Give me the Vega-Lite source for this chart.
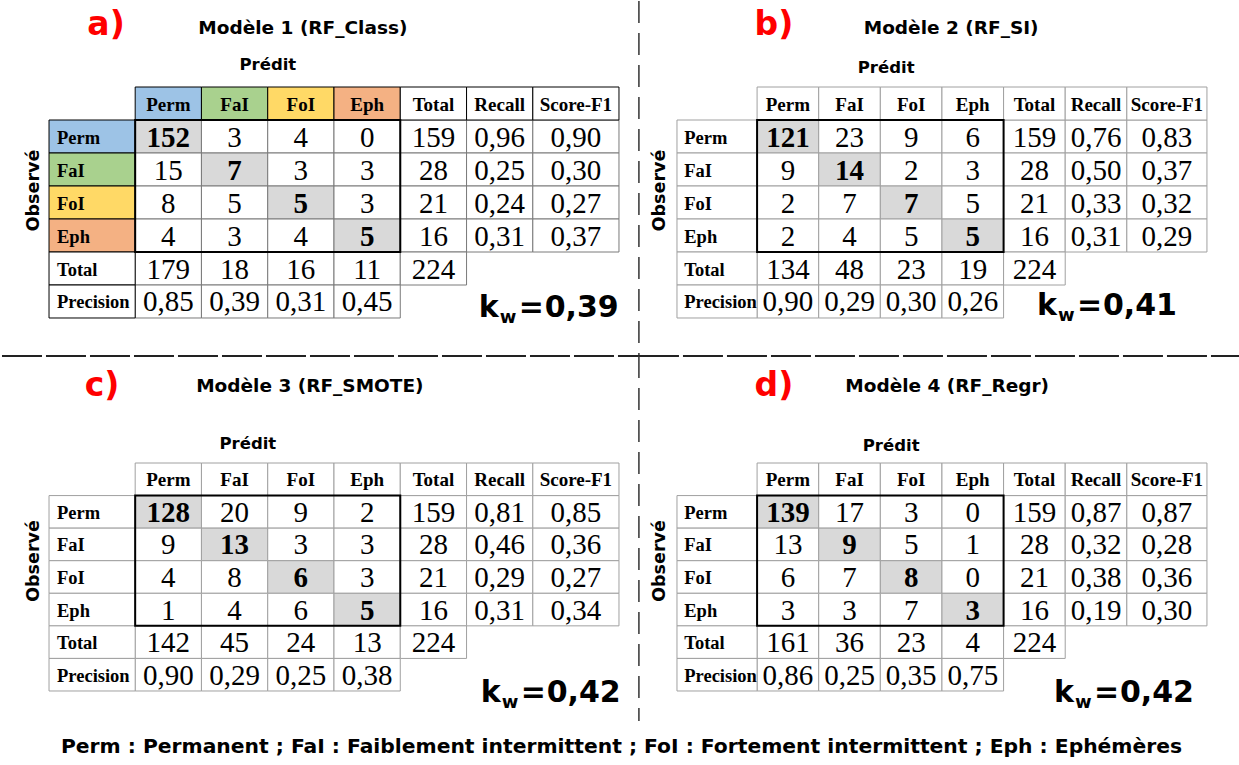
{
"$schema": "https://vega.github.io/schema/vega-lite/v6.json",
"padding": 0,
"background": "white",
"spacing": 0,
"columns": 2,
"bounds": "flush",
"title": {"text": "Perm : Permanent ; FaI : Faiblement intermittent ; FoI : Fortement intermittent ; Eph : Ephémères", "orient": "bottom", "anchor": "middle", "font": "DejaVu Sans", "fontSize": 20.3, "fontWeight": "bold", "color": "#000000", "offset": 11},
"config": {"view": {"stroke": null}, "locale": {"number": {"decimal": ",", "thousands": " ", "grouping": [3], "currency": ["", " €"]}}},
"datasets": {
"panels": [
{"p": "a", "letter": "a)", "model": "Modèle 1 (RF_Class)", "kw": 0.39},
{"p": "b", "letter": "b)", "model": "Modèle 2 (RF_SI)", "kw": 0.41},
{"p": "c", "letter": "c)", "model": "Modèle 3 (RF_SMOTE)", "kw": 0.42},
{"p": "d", "letter": "d)", "model": "Modèle 4 (RF_Regr)", "kw": 0.42}
],
"heads": [
{"r": "hdr", "c": "Perm", "t": "Perm"}, {"r": "hdr", "c": "FaI", "t": "FaI"}, {"r": "hdr", "c": "FoI", "t": "FoI"}, {"r": "hdr", "c": "Eph", "t": "Eph"}, {"r": "hdr", "c": "Total", "t": "Total"}, {"r": "hdr", "c": "Recall", "t": "Recall"}, {"r": "hdr", "c": "F1", "t": "Score-F1"},
{"r": "Perm", "c": "lbl", "t": "Perm"}, {"r": "FaI", "c": "lbl", "t": "FaI"}, {"r": "FoI", "c": "lbl", "t": "FoI"}, {"r": "Eph", "c": "lbl", "t": "Eph"}, {"r": "Total", "c": "lbl", "t": "Total"}, {"r": "Precision", "c": "lbl", "t": "Precision"}
],
"cells": [
{"p":"a","r":"Perm","c":"Perm","v":152},{"p":"a","r":"Perm","c":"FaI","v":3},{"p":"a","r":"Perm","c":"FoI","v":4},{"p":"a","r":"Perm","c":"Eph","v":0},{"p":"a","r":"Perm","c":"Total","v":159},{"p":"a","r":"Perm","c":"Recall","v":0.96},{"p":"a","r":"Perm","c":"F1","v":0.90},
{"p":"a","r":"FaI","c":"Perm","v":15},{"p":"a","r":"FaI","c":"FaI","v":7},{"p":"a","r":"FaI","c":"FoI","v":3},{"p":"a","r":"FaI","c":"Eph","v":3},{"p":"a","r":"FaI","c":"Total","v":28},{"p":"a","r":"FaI","c":"Recall","v":0.25},{"p":"a","r":"FaI","c":"F1","v":0.30},
{"p":"a","r":"FoI","c":"Perm","v":8},{"p":"a","r":"FoI","c":"FaI","v":5},{"p":"a","r":"FoI","c":"FoI","v":5},{"p":"a","r":"FoI","c":"Eph","v":3},{"p":"a","r":"FoI","c":"Total","v":21},{"p":"a","r":"FoI","c":"Recall","v":0.24},{"p":"a","r":"FoI","c":"F1","v":0.27},
{"p":"a","r":"Eph","c":"Perm","v":4},{"p":"a","r":"Eph","c":"FaI","v":3},{"p":"a","r":"Eph","c":"FoI","v":4},{"p":"a","r":"Eph","c":"Eph","v":5},{"p":"a","r":"Eph","c":"Total","v":16},{"p":"a","r":"Eph","c":"Recall","v":0.31},{"p":"a","r":"Eph","c":"F1","v":0.37},
{"p":"a","r":"Total","c":"Perm","v":179},{"p":"a","r":"Total","c":"FaI","v":18},{"p":"a","r":"Total","c":"FoI","v":16},{"p":"a","r":"Total","c":"Eph","v":11},{"p":"a","r":"Total","c":"Total","v":224},
{"p":"a","r":"Precision","c":"Perm","v":0.85},{"p":"a","r":"Precision","c":"FaI","v":0.39},{"p":"a","r":"Precision","c":"FoI","v":0.31},{"p":"a","r":"Precision","c":"Eph","v":0.45},
{"p":"b","r":"Perm","c":"Perm","v":121},{"p":"b","r":"Perm","c":"FaI","v":23},{"p":"b","r":"Perm","c":"FoI","v":9},{"p":"b","r":"Perm","c":"Eph","v":6},{"p":"b","r":"Perm","c":"Total","v":159},{"p":"b","r":"Perm","c":"Recall","v":0.76},{"p":"b","r":"Perm","c":"F1","v":0.83},
{"p":"b","r":"FaI","c":"Perm","v":9},{"p":"b","r":"FaI","c":"FaI","v":14},{"p":"b","r":"FaI","c":"FoI","v":2},{"p":"b","r":"FaI","c":"Eph","v":3},{"p":"b","r":"FaI","c":"Total","v":28},{"p":"b","r":"FaI","c":"Recall","v":0.50},{"p":"b","r":"FaI","c":"F1","v":0.37},
{"p":"b","r":"FoI","c":"Perm","v":2},{"p":"b","r":"FoI","c":"FaI","v":7},{"p":"b","r":"FoI","c":"FoI","v":7},{"p":"b","r":"FoI","c":"Eph","v":5},{"p":"b","r":"FoI","c":"Total","v":21},{"p":"b","r":"FoI","c":"Recall","v":0.33},{"p":"b","r":"FoI","c":"F1","v":0.32},
{"p":"b","r":"Eph","c":"Perm","v":2},{"p":"b","r":"Eph","c":"FaI","v":4},{"p":"b","r":"Eph","c":"FoI","v":5},{"p":"b","r":"Eph","c":"Eph","v":5},{"p":"b","r":"Eph","c":"Total","v":16},{"p":"b","r":"Eph","c":"Recall","v":0.31},{"p":"b","r":"Eph","c":"F1","v":0.29},
{"p":"b","r":"Total","c":"Perm","v":134},{"p":"b","r":"Total","c":"FaI","v":48},{"p":"b","r":"Total","c":"FoI","v":23},{"p":"b","r":"Total","c":"Eph","v":19},{"p":"b","r":"Total","c":"Total","v":224},
{"p":"b","r":"Precision","c":"Perm","v":0.90},{"p":"b","r":"Precision","c":"FaI","v":0.29},{"p":"b","r":"Precision","c":"FoI","v":0.30},{"p":"b","r":"Precision","c":"Eph","v":0.26},
{"p":"c","r":"Perm","c":"Perm","v":128},{"p":"c","r":"Perm","c":"FaI","v":20},{"p":"c","r":"Perm","c":"FoI","v":9},{"p":"c","r":"Perm","c":"Eph","v":2},{"p":"c","r":"Perm","c":"Total","v":159},{"p":"c","r":"Perm","c":"Recall","v":0.81},{"p":"c","r":"Perm","c":"F1","v":0.85},
{"p":"c","r":"FaI","c":"Perm","v":9},{"p":"c","r":"FaI","c":"FaI","v":13},{"p":"c","r":"FaI","c":"FoI","v":3},{"p":"c","r":"FaI","c":"Eph","v":3},{"p":"c","r":"FaI","c":"Total","v":28},{"p":"c","r":"FaI","c":"Recall","v":0.46},{"p":"c","r":"FaI","c":"F1","v":0.36},
{"p":"c","r":"FoI","c":"Perm","v":4},{"p":"c","r":"FoI","c":"FaI","v":8},{"p":"c","r":"FoI","c":"FoI","v":6},{"p":"c","r":"FoI","c":"Eph","v":3},{"p":"c","r":"FoI","c":"Total","v":21},{"p":"c","r":"FoI","c":"Recall","v":0.29},{"p":"c","r":"FoI","c":"F1","v":0.27},
{"p":"c","r":"Eph","c":"Perm","v":1},{"p":"c","r":"Eph","c":"FaI","v":4},{"p":"c","r":"Eph","c":"FoI","v":6},{"p":"c","r":"Eph","c":"Eph","v":5},{"p":"c","r":"Eph","c":"Total","v":16},{"p":"c","r":"Eph","c":"Recall","v":0.31},{"p":"c","r":"Eph","c":"F1","v":0.34},
{"p":"c","r":"Total","c":"Perm","v":142},{"p":"c","r":"Total","c":"FaI","v":45},{"p":"c","r":"Total","c":"FoI","v":24},{"p":"c","r":"Total","c":"Eph","v":13},{"p":"c","r":"Total","c":"Total","v":224},
{"p":"c","r":"Precision","c":"Perm","v":0.90},{"p":"c","r":"Precision","c":"FaI","v":0.29},{"p":"c","r":"Precision","c":"FoI","v":0.25},{"p":"c","r":"Precision","c":"Eph","v":0.38},
{"p":"d","r":"Perm","c":"Perm","v":139},{"p":"d","r":"Perm","c":"FaI","v":17},{"p":"d","r":"Perm","c":"FoI","v":3},{"p":"d","r":"Perm","c":"Eph","v":0},{"p":"d","r":"Perm","c":"Total","v":159},{"p":"d","r":"Perm","c":"Recall","v":0.87},{"p":"d","r":"Perm","c":"F1","v":0.87},
{"p":"d","r":"FaI","c":"Perm","v":13},{"p":"d","r":"FaI","c":"FaI","v":9},{"p":"d","r":"FaI","c":"FoI","v":5},{"p":"d","r":"FaI","c":"Eph","v":1},{"p":"d","r":"FaI","c":"Total","v":28},{"p":"d","r":"FaI","c":"Recall","v":0.32},{"p":"d","r":"FaI","c":"F1","v":0.28},
{"p":"d","r":"FoI","c":"Perm","v":6},{"p":"d","r":"FoI","c":"FaI","v":7},{"p":"d","r":"FoI","c":"FoI","v":8},{"p":"d","r":"FoI","c":"Eph","v":0},{"p":"d","r":"FoI","c":"Total","v":21},{"p":"d","r":"FoI","c":"Recall","v":0.38},{"p":"d","r":"FoI","c":"F1","v":0.36},
{"p":"d","r":"Eph","c":"Perm","v":3},{"p":"d","r":"Eph","c":"FaI","v":3},{"p":"d","r":"Eph","c":"FoI","v":7},{"p":"d","r":"Eph","c":"Eph","v":3},{"p":"d","r":"Eph","c":"Total","v":16},{"p":"d","r":"Eph","c":"Recall","v":0.19},{"p":"d","r":"Eph","c":"F1","v":0.30},
{"p":"d","r":"Total","c":"Perm","v":161},{"p":"d","r":"Total","c":"FaI","v":36},{"p":"d","r":"Total","c":"FoI","v":23},{"p":"d","r":"Total","c":"Eph","v":4},{"p":"d","r":"Total","c":"Total","v":224},
{"p":"d","r":"Precision","c":"Perm","v":0.86},{"p":"d","r":"Precision","c":"FaI","v":0.25},{"p":"d","r":"Precision","c":"FoI","v":0.35},{"p":"d","r":"Precision","c":"Eph","v":0.75}
]
},
"concat": [
{
"width": 637, "height": 355,
"encoding": {
"x": {"field": "c", "type": "nominal", "axis": null, "scale": {"domain": ["lbl","Perm","FaI","FoI","Eph","Total","Recall","F1"], "paddingInner": 0, "paddingOuter": 0.8057, "align": 0.6264}},
"y": {"field": "r", "type": "nominal", "axis": null, "scale": {"domain": ["title","pred","hdr","Perm","FaI","FoI","Eph","Total","Precision","sep"], "paddingInner": 0, "paddingOuter": 0.3788, "align": 0.8}}
},
"layer": [
{"data": {"name": "cells"}, "transform": [{"filter": "datum.p === 'a' && datum.c !== 'F1'"}], "mark": {"type": "rect", "stroke": "#7a7a7a", "strokeWidth": 1}, "encoding": {"fill": {"condition": {"test": "datum.r === datum.c && datum.r !== 'Total'", "value": "#d9d9d9"}, "value": "#ffffff"}}},
{"data": {"name": "cells"}, "transform": [{"filter": "datum.p === 'a' && datum.c === 'F1'"}], "mark": {"type": "rect", "stroke": "#7a7a7a", "strokeWidth": 1, "fill": "#ffffff", "width": {"band": 1.3}, "xOffset": 9.94}},
{"data": {"name": "heads"}, "transform": [{"filter": "datum.c !== 'lbl' && datum.c !== 'F1'"}], "mark": {"type": "rect", "stroke": "#000000", "strokeWidth": 1}, "encoding": {"fill": {"field": "t", "type": "nominal", "legend": null, "scale": {"domain": ["Perm","FaI","FoI","Eph","Total","Recall","Score-F1","Precision"], "range": ["#9dc3e6","#a9d18e","#ffd966","#f4b183","#ffffff","#ffffff","#ffffff","#ffffff"]}}}},
{"data": {"name": "heads"}, "transform": [{"filter": "datum.c === 'F1'"}], "mark": {"type": "rect", "stroke": "#000000", "strokeWidth": 1, "width": {"band": 1.3}, "xOffset": 9.94}, "encoding": {"fill": {"field": "t", "type": "nominal", "legend": null, "scale": {"domain": ["Perm","FaI","FoI","Eph","Total","Recall","Score-F1","Precision"], "range": ["#9dc3e6","#a9d18e","#ffd966","#f4b183","#ffffff","#ffffff","#ffffff","#ffffff"]}}}},
{"data": {"name": "heads"}, "transform": [{"filter": "datum.c === 'lbl'"}], "mark": {"type": "rect", "stroke": "#000000", "strokeWidth": 1, "width": {"band": 1.3}, "xOffset": -9.94}, "encoding": {"fill": {"field": "t", "type": "nominal", "legend": null, "scale": {"domain": ["Perm","FaI","FoI","Eph","Total","Recall","Score-F1","Precision"], "range": ["#9dc3e6","#a9d18e","#ffd966","#f4b183","#ffffff","#ffffff","#ffffff","#ffffff"]}}}},
{"data": {"name": "panels"}, "transform": [{"filter": "datum.p === 'a'"}], "mark": {"type": "rect", "fill": "transparent", "stroke": "#000000", "strokeWidth": 2}, "encoding": {"x": {"datum": "Perm", "bandPosition": 0}, "x2": {"datum": "Eph", "bandPosition": 1}, "y": {"datum": "Perm", "bandPosition": 0}, "y2": {"datum": "Eph", "bandPosition": 1}}},
{"data": {"name": "heads"}, "transform": [{"filter": "datum.c !== 'lbl' && datum.c !== 'F1'"}], "mark": {"type": "text", "font": "Liberation Serif", "fontSize": 19, "fontWeight": "bold", "dy": 1}, "encoding": {"text": {"field": "t"}}},
{"data": {"name": "heads"}, "transform": [{"filter": "datum.c === 'F1'"}], "mark": {"type": "text", "font": "Liberation Serif", "fontSize": 19, "fontWeight": "bold", "dy": 1, "dx": 9.94}, "encoding": {"text": {"field": "t"}}},
{"data": {"name": "heads"}, "transform": [{"filter": "datum.c === 'lbl'"}], "mark": {"type": "text", "font": "Liberation Serif", "fontSize": 18.5, "fontWeight": "bold", "dy": 1, "align": "left", "dx": -45}, "encoding": {"text": {"field": "t"}}},
{"data": {"name": "cells"}, "transform": [{"filter": "datum.p === 'a' && datum.r !== 'Precision' && datum.c !== 'Recall' && datum.c !== 'F1' && (datum.r !== datum.c || datum.r === 'Total')"}], "mark": {"type": "text", "font": "Liberation Serif", "fontSize": 29, "dy": 1}, "encoding": {"text": {"field": "v", "type": "quantitative", "format": "d"}}},
{"data": {"name": "cells"}, "transform": [{"filter": "datum.p === 'a' && datum.r === datum.c && datum.r !== 'Total'"}], "mark": {"type": "text", "font": "Liberation Serif", "fontSize": 29, "fontWeight": "bold", "dy": 1}, "encoding": {"text": {"field": "v", "type": "quantitative", "format": "d"}}},
{"data": {"name": "cells"}, "transform": [{"filter": "datum.p === 'a' && (datum.r === 'Precision' || datum.c === 'Recall')"}], "mark": {"type": "text", "font": "Liberation Serif", "fontSize": 29, "dy": 1}, "encoding": {"text": {"field": "v", "type": "quantitative", "format": ".2f"}}},
{"data": {"name": "cells"}, "transform": [{"filter": "datum.p === 'a' && datum.c === 'F1'"}], "mark": {"type": "text", "font": "Liberation Serif", "fontSize": 29, "dy": 1, "dx": 9.94}, "encoding": {"text": {"field": "v", "type": "quantitative", "format": ".2f"}}},
{"data": {"name": "panels"}, "transform": [{"filter": "datum.p === 'a'"}], "mark": {"type": "text", "font": "DejaVu Sans", "fontSize": 33, "fontWeight": "bold", "color": "#ff0000", "dx": 4, "dy": -13}, "encoding": {"x": {"datum": "lbl"}, "y": {"datum": "title"}, "text": {"field": "letter"}}},
{"data": {"name": "panels"}, "transform": [{"filter": "datum.p === 'a'"}], "mark": {"type": "text", "font": "DejaVu Sans", "fontSize": 18.5, "fontWeight": "bold", "color": "#000000", "dx": 2, "dy": -9.5}, "encoding": {"x": {"datum": "FoI"}, "y": {"datum": "title"}, "text": {"field": "model"}}},
{"data": {"name": "panels"}, "transform": [{"filter": "datum.p === 'a'"}], "mark": {"type": "text", "text": "Prédit", "font": "DejaVu Sans", "fontSize": 16.5, "fontWeight": "bold", "color": "#000000", "dx": -33, "dy": -5.5}, "encoding": {"x": {"datum": "FoI"}, "y": {"datum": "pred"}}},
{"data": {"name": "panels"}, "transform": [{"filter": "datum.p === 'a'"}], "mark": {"type": "text", "text": "Observé", "angle": 270, "font": "DejaVu Sans", "fontSize": 17.5, "fontWeight": "bold", "color": "#000000", "xOffset": -68, "yOffset": -12}, "encoding": {"x": {"datum": "lbl"}, "y": {"datum": "FoI"}}},
{"data": {"name": "panels"}, "transform": [{"filter": "datum.p === 'a'"}], "mark": {"type": "text", "text": "k", "font": "DejaVu Sans", "fontSize": 30, "fontWeight": "bold", "align": "left", "baseline": "alphabetic", "dx": -21, "dy": 15.5}, "encoding": {"x": {"datum": "Recall"}, "y": {"datum": "Precision"}}},
{"data": {"name": "panels"}, "transform": [{"filter": "datum.p === 'a'"}], "mark": {"type": "text", "text": "w", "font": "DejaVu Sans", "fontSize": 18, "fontWeight": "bold", "align": "left", "baseline": "alphabetic", "dx": 0, "dy": 21.5}, "encoding": {"x": {"datum": "Recall"}, "y": {"datum": "Precision"}}},
{"data": {"name": "panels"}, "transform": [{"filter": "datum.p === 'a'"}], "mark": {"type": "text", "text": "=", "font": "DejaVu Sans", "fontSize": 30, "fontWeight": "bold", "align": "left", "baseline": "alphabetic", "dx": 19, "dy": 15.5}, "encoding": {"x": {"datum": "Recall"}, "y": {"datum": "Precision"}}},
{"data": {"name": "panels"}, "transform": [{"filter": "datum.p === 'a'"}], "mark": {"type": "text", "font": "DejaVu Sans", "fontSize": 30, "fontWeight": "bold", "align": "left", "baseline": "alphabetic", "dx": 45, "dy": 15.5}, "encoding": {"x": {"datum": "Recall"}, "y": {"datum": "Precision"}, "text": {"field": "kw", "type": "quantitative", "format": ".2f"}}},
{"data": {"name": "panels"}, "transform": [{"filter": "datum.p === 'a'"}], "mark": {"type": "rule", "stroke": "#333333", "strokeWidth": 1.5, "strokeDash": [22, 10], "xOffset": 72.95, "yOffset": -36.5, "y2Offset": 21.5}, "encoding": {"x": {"datum": "F1"}, "y": {"datum": "title"}, "y2": {"datum": "sep"}}},
{"data": {"name": "panels"}, "transform": [{"filter": "datum.p === 'a'"}], "mark": {"type": "rule", "stroke": "#222222", "strokeWidth": 2, "strokeDash": [40, 4], "xOffset": -100.05, "x2Offset": 72.95, "yOffset": 21.5}, "encoding": {"x": {"datum": "lbl"}, "x2": {"datum": "F1"}, "y": {"datum": "sep"}}}
]
},
{
"width": 602, "height": 355,
"encoding": {
"x": {"field": "c", "type": "nominal", "axis": null, "scale": {"domain": ["lbl","Perm","FaI","FoI","Eph","Total","Recall","F1"], "paddingInner": 0, "paddingOuter": 0.8843, "align": 0.518}},
"y": {"field": "r", "type": "nominal", "axis": null, "scale": {"domain": ["title","pred","hdr","Perm","FaI","FoI","Eph","Total","Precision","sep"], "paddingInner": 0, "paddingOuter": 0.3788, "align": 0.8}}
},
"layer": [
{"data": {"name": "cells"}, "transform": [{"filter": "datum.p === 'b' && datum.c !== 'F1'"}], "mark": {"type": "rect", "stroke": "#a0a0a0", "strokeWidth": 1}, "encoding": {"fill": {"condition": {"test": "datum.r === datum.c && datum.r !== 'Total'", "value": "#d9d9d9"}, "value": "#ffffff"}}},
{"data": {"name": "cells"}, "transform": [{"filter": "datum.p === 'b' && datum.c === 'F1'"}], "mark": {"type": "rect", "stroke": "#a0a0a0", "strokeWidth": 1, "fill": "#ffffff", "width": {"band": 1.3}, "xOffset": 9.24}},
{"data": {"name": "heads"}, "transform": [{"filter": "datum.c !== 'lbl' && datum.c !== 'F1'"}], "mark": {"type": "rect", "stroke": "#a0a0a0", "strokeWidth": 1, "fill": "#ffffff"}},
{"data": {"name": "heads"}, "transform": [{"filter": "datum.c === 'F1'"}], "mark": {"type": "rect", "stroke": "#a0a0a0", "strokeWidth": 1, "fill": "#ffffff", "width": {"band": 1.3}, "xOffset": 9.24}},
{"data": {"name": "heads"}, "transform": [{"filter": "datum.c === 'lbl'"}], "mark": {"type": "rect", "stroke": "#a0a0a0", "strokeWidth": 1, "fill": "#ffffff", "width": {"band": 1.3}, "xOffset": -9.24}},
{"data": {"name": "panels"}, "transform": [{"filter": "datum.p === 'b'"}], "mark": {"type": "rect", "fill": "transparent", "stroke": "#000000", "strokeWidth": 2}, "encoding": {"x": {"datum": "Perm", "bandPosition": 0}, "x2": {"datum": "Eph", "bandPosition": 1}, "y": {"datum": "Perm", "bandPosition": 0}, "y2": {"datum": "Eph", "bandPosition": 1}}},
{"data": {"name": "heads"}, "transform": [{"filter": "datum.c !== 'lbl' && datum.c !== 'F1'"}], "mark": {"type": "text", "font": "Liberation Serif", "fontSize": 19, "fontWeight": "bold", "dy": 1}, "encoding": {"text": {"field": "t"}}},
{"data": {"name": "heads"}, "transform": [{"filter": "datum.c === 'F1'"}], "mark": {"type": "text", "font": "Liberation Serif", "fontSize": 19, "fontWeight": "bold", "dy": 1, "dx": 9.24}, "encoding": {"text": {"field": "t"}}},
{"data": {"name": "heads"}, "transform": [{"filter": "datum.c === 'lbl'"}], "mark": {"type": "text", "font": "Liberation Serif", "fontSize": 18.5, "fontWeight": "bold", "dy": 1, "align": "left", "dx": -42}, "encoding": {"text": {"field": "t"}}},
{"data": {"name": "cells"}, "transform": [{"filter": "datum.p === 'b' && datum.r !== 'Precision' && datum.c !== 'Recall' && datum.c !== 'F1' && (datum.r !== datum.c || datum.r === 'Total')"}], "mark": {"type": "text", "font": "Liberation Serif", "fontSize": 29, "dy": 1}, "encoding": {"text": {"field": "v", "type": "quantitative", "format": "d"}}},
{"data": {"name": "cells"}, "transform": [{"filter": "datum.p === 'b' && datum.r === datum.c && datum.r !== 'Total'"}], "mark": {"type": "text", "font": "Liberation Serif", "fontSize": 29, "fontWeight": "bold", "dy": 1}, "encoding": {"text": {"field": "v", "type": "quantitative", "format": "d"}}},
{"data": {"name": "cells"}, "transform": [{"filter": "datum.p === 'b' && (datum.r === 'Precision' || datum.c === 'Recall')"}], "mark": {"type": "text", "font": "Liberation Serif", "fontSize": 29, "dy": 1}, "encoding": {"text": {"field": "v", "type": "quantitative", "format": ".2f"}}},
{"data": {"name": "cells"}, "transform": [{"filter": "datum.p === 'b' && datum.c === 'F1'"}], "mark": {"type": "text", "font": "Liberation Serif", "fontSize": 29, "dy": 1, "dx": 9.24}, "encoding": {"text": {"field": "v", "type": "quantitative", "format": ".2f"}}},
{"data": {"name": "panels"}, "transform": [{"filter": "datum.p === 'b'"}], "mark": {"type": "text", "font": "DejaVu Sans", "fontSize": 33, "fontWeight": "bold", "color": "#ff0000", "dx": -14, "dy": -13}, "encoding": {"x": {"datum": "Perm"}, "y": {"datum": "title"}, "text": {"field": "letter"}}},
{"data": {"name": "panels"}, "transform": [{"filter": "datum.p === 'b'"}], "mark": {"type": "text", "font": "DejaVu Sans", "fontSize": 18.5, "fontWeight": "bold", "color": "#000000", "dx": 40, "dy": -9.5}, "encoding": {"x": {"datum": "FoI"}, "y": {"datum": "title"}, "text": {"field": "model"}}},
{"data": {"name": "panels"}, "transform": [{"filter": "datum.p === 'b'"}], "mark": {"type": "text", "text": "Prédit", "font": "DejaVu Sans", "fontSize": 16.5, "fontWeight": "bold", "color": "#000000", "dx": -25, "dy": -2.5}, "encoding": {"x": {"datum": "FoI"}, "y": {"datum": "pred"}}},
{"data": {"name": "panels"}, "transform": [{"filter": "datum.p === 'b'"}], "mark": {"type": "text", "text": "Observé", "angle": 270, "font": "DejaVu Sans", "fontSize": 17.5, "fontWeight": "bold", "color": "#000000", "xOffset": -66, "yOffset": -12}, "encoding": {"x": {"datum": "lbl"}, "y": {"datum": "FoI"}}},
{"data": {"name": "panels"}, "transform": [{"filter": "datum.p === 'b'"}], "mark": {"type": "text", "text": "k", "font": "DejaVu Sans", "fontSize": 30, "fontWeight": "bold", "align": "left", "baseline": "alphabetic", "dx": 2.5, "dy": 13.5}, "encoding": {"x": {"datum": "Total"}, "y": {"datum": "Precision"}}},
{"data": {"name": "panels"}, "transform": [{"filter": "datum.p === 'b'"}], "mark": {"type": "text", "text": "w", "font": "DejaVu Sans", "fontSize": 18, "fontWeight": "bold", "align": "left", "baseline": "alphabetic", "dx": 23.5, "dy": 19.5}, "encoding": {"x": {"datum": "Total"}, "y": {"datum": "Precision"}}},
{"data": {"name": "panels"}, "transform": [{"filter": "datum.p === 'b'"}], "mark": {"type": "text", "text": "=", "font": "DejaVu Sans", "fontSize": 30, "fontWeight": "bold", "align": "left", "baseline": "alphabetic", "dx": 42.5, "dy": 13.5}, "encoding": {"x": {"datum": "Total"}, "y": {"datum": "Precision"}}},
{"data": {"name": "panels"}, "transform": [{"filter": "datum.p === 'b'"}], "mark": {"type": "text", "font": "DejaVu Sans", "fontSize": 30, "fontWeight": "bold", "align": "left", "baseline": "alphabetic", "dx": 68.5, "dy": 13.5}, "encoding": {"x": {"datum": "Total"}, "y": {"datum": "Precision"}, "text": {"field": "kw", "type": "quantitative", "format": ".2f"}}},
{"data": {"name": "panels"}, "transform": [{"filter": "datum.p === 'b'"}], "mark": {"type": "rule", "stroke": "#222222", "strokeWidth": 2, "strokeDash": [40, 4], "xOffset": -87.3, "x2Offset": 83.3, "yOffset": 21.5}, "encoding": {"x": {"datum": "lbl"}, "x2": {"datum": "F1"}, "y": {"datum": "sep"}}}
]
},
{
"width": 637, "height": 370,
"encoding": {
"x": {"field": "c", "type": "nominal", "axis": null, "scale": {"domain": ["lbl","Perm","FaI","FoI","Eph","Total","Recall","F1"], "paddingInner": 0, "paddingOuter": 0.8057, "align": 0.6264}},
"y": {"field": "r", "type": "nominal", "axis": null, "scale": {"domain": ["title","pred","hdr","Perm","FaI","FoI","Eph","Total","Precision","sep"], "paddingInner": 0, "paddingOuter": 0.68, "align": 0.945}}
},
"layer": [
{"data": {"name": "cells"}, "transform": [{"filter": "datum.p === 'c' && datum.c !== 'F1'"}], "mark": {"type": "rect", "stroke": "#a0a0a0", "strokeWidth": 1}, "encoding": {"fill": {"condition": {"test": "datum.r === datum.c && datum.r !== 'Total'", "value": "#d9d9d9"}, "value": "#ffffff"}}},
{"data": {"name": "cells"}, "transform": [{"filter": "datum.p === 'c' && datum.c === 'F1'"}], "mark": {"type": "rect", "stroke": "#a0a0a0", "strokeWidth": 1, "fill": "#ffffff", "width": {"band": 1.3}, "xOffset": 9.94}},
{"data": {"name": "heads"}, "transform": [{"filter": "datum.c !== 'lbl' && datum.c !== 'F1'"}], "mark": {"type": "rect", "stroke": "#a0a0a0", "strokeWidth": 1, "fill": "#ffffff"}},
{"data": {"name": "heads"}, "transform": [{"filter": "datum.c === 'F1'"}], "mark": {"type": "rect", "stroke": "#a0a0a0", "strokeWidth": 1, "fill": "#ffffff", "width": {"band": 1.3}, "xOffset": 9.94}},
{"data": {"name": "heads"}, "transform": [{"filter": "datum.c === 'lbl'"}], "mark": {"type": "rect", "stroke": "#a0a0a0", "strokeWidth": 1, "fill": "#ffffff", "width": {"band": 1.3}, "xOffset": -9.94}},
{"data": {"name": "panels"}, "transform": [{"filter": "datum.p === 'c'"}], "mark": {"type": "rect", "fill": "transparent", "stroke": "#000000", "strokeWidth": 2}, "encoding": {"x": {"datum": "Perm", "bandPosition": 0}, "x2": {"datum": "Eph", "bandPosition": 1}, "y": {"datum": "Perm", "bandPosition": 0}, "y2": {"datum": "Eph", "bandPosition": 1}}},
{"data": {"name": "heads"}, "transform": [{"filter": "datum.c !== 'lbl' && datum.c !== 'F1'"}], "mark": {"type": "text", "font": "Liberation Serif", "fontSize": 19, "fontWeight": "bold", "dy": 1}, "encoding": {"text": {"field": "t"}}},
{"data": {"name": "heads"}, "transform": [{"filter": "datum.c === 'F1'"}], "mark": {"type": "text", "font": "Liberation Serif", "fontSize": 19, "fontWeight": "bold", "dy": 1, "dx": 9.94}, "encoding": {"text": {"field": "t"}}},
{"data": {"name": "heads"}, "transform": [{"filter": "datum.c === 'lbl'"}], "mark": {"type": "text", "font": "Liberation Serif", "fontSize": 18.5, "fontWeight": "bold", "dy": 1, "align": "left", "dx": -45}, "encoding": {"text": {"field": "t"}}},
{"data": {"name": "cells"}, "transform": [{"filter": "datum.p === 'c' && datum.r !== 'Precision' && datum.c !== 'Recall' && datum.c !== 'F1' && (datum.r !== datum.c || datum.r === 'Total')"}], "mark": {"type": "text", "font": "Liberation Serif", "fontSize": 29, "dy": 1}, "encoding": {"text": {"field": "v", "type": "quantitative", "format": "d"}}},
{"data": {"name": "cells"}, "transform": [{"filter": "datum.p === 'c' && datum.r === datum.c && datum.r !== 'Total'"}], "mark": {"type": "text", "font": "Liberation Serif", "fontSize": 29, "fontWeight": "bold", "dy": 1}, "encoding": {"text": {"field": "v", "type": "quantitative", "format": "d"}}},
{"data": {"name": "cells"}, "transform": [{"filter": "datum.p === 'c' && (datum.r === 'Precision' || datum.c === 'Recall')"}], "mark": {"type": "text", "font": "Liberation Serif", "fontSize": 29, "dy": 1}, "encoding": {"text": {"field": "v", "type": "quantitative", "format": ".2f"}}},
{"data": {"name": "cells"}, "transform": [{"filter": "datum.p === 'c' && datum.c === 'F1'"}], "mark": {"type": "text", "font": "Liberation Serif", "fontSize": 29, "dy": 1, "dx": 9.94}, "encoding": {"text": {"field": "v", "type": "quantitative", "format": ".2f"}}},
{"data": {"name": "panels"}, "transform": [{"filter": "datum.p === 'c'"}], "mark": {"type": "text", "font": "DejaVu Sans", "fontSize": 33, "fontWeight": "bold", "color": "#ff0000", "dx": 0, "dy": -28}, "encoding": {"x": {"datum": "lbl"}, "y": {"datum": "title"}, "text": {"field": "letter"}}},
{"data": {"name": "panels"}, "transform": [{"filter": "datum.p === 'c'"}], "mark": {"type": "text", "font": "DejaVu Sans", "fontSize": 18.5, "fontWeight": "bold", "color": "#000000", "dx": 9, "dy": -28}, "encoding": {"x": {"datum": "FoI"}, "y": {"datum": "title"}, "text": {"field": "model"}}},
{"data": {"name": "panels"}, "transform": [{"filter": "datum.p === 'c'"}], "mark": {"type": "text", "text": "Prédit", "font": "DejaVu Sans", "fontSize": 16.5, "fontWeight": "bold", "color": "#000000", "dx": -53, "dy": -2.7}, "encoding": {"x": {"datum": "FoI"}, "y": {"datum": "pred"}}},
{"data": {"name": "panels"}, "transform": [{"filter": "datum.p === 'c'"}], "mark": {"type": "text", "text": "Observé", "angle": 270, "font": "DejaVu Sans", "fontSize": 17.5, "fontWeight": "bold", "color": "#000000", "xOffset": -68, "yOffset": -16}, "encoding": {"x": {"datum": "lbl"}, "y": {"datum": "FoI"}}},
{"data": {"name": "panels"}, "transform": [{"filter": "datum.p === 'c'"}], "mark": {"type": "text", "text": "k", "font": "DejaVu Sans", "fontSize": 30, "fontWeight": "bold", "align": "left", "baseline": "alphabetic", "dx": -19, "dy": 27.3}, "encoding": {"x": {"datum": "Recall"}, "y": {"datum": "Precision"}}},
{"data": {"name": "panels"}, "transform": [{"filter": "datum.p === 'c'"}], "mark": {"type": "text", "text": "w", "font": "DejaVu Sans", "fontSize": 18, "fontWeight": "bold", "align": "left", "baseline": "alphabetic", "dx": 2, "dy": 33.3}, "encoding": {"x": {"datum": "Recall"}, "y": {"datum": "Precision"}}},
{"data": {"name": "panels"}, "transform": [{"filter": "datum.p === 'c'"}], "mark": {"type": "text", "text": "=", "font": "DejaVu Sans", "fontSize": 30, "fontWeight": "bold", "align": "left", "baseline": "alphabetic", "dx": 21, "dy": 27.3}, "encoding": {"x": {"datum": "Recall"}, "y": {"datum": "Precision"}}},
{"data": {"name": "panels"}, "transform": [{"filter": "datum.p === 'c'"}], "mark": {"type": "text", "font": "DejaVu Sans", "fontSize": 30, "fontWeight": "bold", "align": "left", "baseline": "alphabetic", "dx": 47, "dy": 27.3}, "encoding": {"x": {"datum": "Recall"}, "y": {"datum": "Precision"}, "text": {"field": "kw", "type": "quantitative", "format": ".2f"}}},
{"data": {"name": "panels"}, "transform": [{"filter": "datum.p === 'c'"}], "mark": {"type": "rule", "stroke": "#333333", "strokeWidth": 1.5, "strokeDash": [22, 10], "xOffset": 72.95, "yOffset": -58.15, "y2Offset": 13.7}, "encoding": {"x": {"datum": "F1"}, "y": {"datum": "title"}, "y2": {"datum": "sep"}}}
]
},
{
"width": 602, "height": 370,
"encoding": {
"x": {"field": "c", "type": "nominal", "axis": null, "scale": {"domain": ["lbl","Perm","FaI","FoI","Eph","Total","Recall","F1"], "paddingInner": 0, "paddingOuter": 0.8843, "align": 0.518}},
"y": {"field": "r", "type": "nominal", "axis": null, "scale": {"domain": ["title","pred","hdr","Perm","FaI","FoI","Eph","Total","Precision","sep"], "paddingInner": 0, "paddingOuter": 0.68, "align": 0.945}}
},
"layer": [
{"data": {"name": "cells"}, "transform": [{"filter": "datum.p === 'd' && datum.c !== 'F1'"}], "mark": {"type": "rect", "stroke": "#a0a0a0", "strokeWidth": 1}, "encoding": {"fill": {"condition": {"test": "datum.r === datum.c && datum.r !== 'Total'", "value": "#d9d9d9"}, "value": "#ffffff"}}},
{"data": {"name": "cells"}, "transform": [{"filter": "datum.p === 'd' && datum.c === 'F1'"}], "mark": {"type": "rect", "stroke": "#a0a0a0", "strokeWidth": 1, "fill": "#ffffff", "width": {"band": 1.3}, "xOffset": 9.24}},
{"data": {"name": "heads"}, "transform": [{"filter": "datum.c !== 'lbl' && datum.c !== 'F1'"}], "mark": {"type": "rect", "stroke": "#a0a0a0", "strokeWidth": 1, "fill": "#ffffff"}},
{"data": {"name": "heads"}, "transform": [{"filter": "datum.c === 'F1'"}], "mark": {"type": "rect", "stroke": "#a0a0a0", "strokeWidth": 1, "fill": "#ffffff", "width": {"band": 1.3}, "xOffset": 9.24}},
{"data": {"name": "heads"}, "transform": [{"filter": "datum.c === 'lbl'"}], "mark": {"type": "rect", "stroke": "#a0a0a0", "strokeWidth": 1, "fill": "#ffffff", "width": {"band": 1.3}, "xOffset": -9.24}},
{"data": {"name": "panels"}, "transform": [{"filter": "datum.p === 'd'"}], "mark": {"type": "rect", "fill": "transparent", "stroke": "#000000", "strokeWidth": 2}, "encoding": {"x": {"datum": "Perm", "bandPosition": 0}, "x2": {"datum": "Eph", "bandPosition": 1}, "y": {"datum": "Perm", "bandPosition": 0}, "y2": {"datum": "Eph", "bandPosition": 1}}},
{"data": {"name": "heads"}, "transform": [{"filter": "datum.c !== 'lbl' && datum.c !== 'F1'"}], "mark": {"type": "text", "font": "Liberation Serif", "fontSize": 19, "fontWeight": "bold", "dy": 1}, "encoding": {"text": {"field": "t"}}},
{"data": {"name": "heads"}, "transform": [{"filter": "datum.c === 'F1'"}], "mark": {"type": "text", "font": "Liberation Serif", "fontSize": 19, "fontWeight": "bold", "dy": 1, "dx": 9.24}, "encoding": {"text": {"field": "t"}}},
{"data": {"name": "heads"}, "transform": [{"filter": "datum.c === 'lbl'"}], "mark": {"type": "text", "font": "Liberation Serif", "fontSize": 18.5, "fontWeight": "bold", "dy": 1, "align": "left", "dx": -42}, "encoding": {"text": {"field": "t"}}},
{"data": {"name": "cells"}, "transform": [{"filter": "datum.p === 'd' && datum.r !== 'Precision' && datum.c !== 'Recall' && datum.c !== 'F1' && (datum.r !== datum.c || datum.r === 'Total')"}], "mark": {"type": "text", "font": "Liberation Serif", "fontSize": 29, "dy": 1}, "encoding": {"text": {"field": "v", "type": "quantitative", "format": "d"}}},
{"data": {"name": "cells"}, "transform": [{"filter": "datum.p === 'd' && datum.r === datum.c && datum.r !== 'Total'"}], "mark": {"type": "text", "font": "Liberation Serif", "fontSize": 29, "fontWeight": "bold", "dy": 1}, "encoding": {"text": {"field": "v", "type": "quantitative", "format": "d"}}},
{"data": {"name": "cells"}, "transform": [{"filter": "datum.p === 'd' && (datum.r === 'Precision' || datum.c === 'Recall')"}], "mark": {"type": "text", "font": "Liberation Serif", "fontSize": 29, "dy": 1}, "encoding": {"text": {"field": "v", "type": "quantitative", "format": ".2f"}}},
{"data": {"name": "cells"}, "transform": [{"filter": "datum.p === 'd' && datum.c === 'F1'"}], "mark": {"type": "text", "font": "Liberation Serif", "fontSize": 29, "dy": 1, "dx": 9.24}, "encoding": {"text": {"field": "v", "type": "quantitative", "format": ".2f"}}},
{"data": {"name": "panels"}, "transform": [{"filter": "datum.p === 'd'"}], "mark": {"type": "text", "font": "DejaVu Sans", "fontSize": 33, "fontWeight": "bold", "color": "#ff0000", "dx": -14, "dy": -28}, "encoding": {"x": {"datum": "Perm"}, "y": {"datum": "title"}, "text": {"field": "letter"}}},
{"data": {"name": "panels"}, "transform": [{"filter": "datum.p === 'd'"}], "mark": {"type": "text", "font": "DejaVu Sans", "fontSize": 18.5, "fontWeight": "bold", "color": "#000000", "dx": 36, "dy": -28}, "encoding": {"x": {"datum": "FoI"}, "y": {"datum": "title"}, "text": {"field": "model"}}},
{"data": {"name": "panels"}, "transform": [{"filter": "datum.p === 'd'"}], "mark": {"type": "text", "text": "Prédit", "font": "DejaVu Sans", "fontSize": 16.5, "fontWeight": "bold", "color": "#000000", "dx": -20, "dy": -1}, "encoding": {"x": {"datum": "FoI"}, "y": {"datum": "pred"}}},
{"data": {"name": "panels"}, "transform": [{"filter": "datum.p === 'd'"}], "mark": {"type": "text", "text": "Observé", "angle": 270, "font": "DejaVu Sans", "fontSize": 17.5, "fontWeight": "bold", "color": "#000000", "xOffset": -66, "yOffset": -16}, "encoding": {"x": {"datum": "lbl"}, "y": {"datum": "FoI"}}},
{"data": {"name": "panels"}, "transform": [{"filter": "datum.p === 'd'"}], "mark": {"type": "text", "text": "k", "font": "DejaVu Sans", "fontSize": 30, "fontWeight": "bold", "align": "left", "baseline": "alphabetic", "dx": 19.5, "dy": 27.3}, "encoding": {"x": {"datum": "Total"}, "y": {"datum": "Precision"}}},
{"data": {"name": "panels"}, "transform": [{"filter": "datum.p === 'd'"}], "mark": {"type": "text", "text": "w", "font": "DejaVu Sans", "fontSize": 18, "fontWeight": "bold", "align": "left", "baseline": "alphabetic", "dx": 40.5, "dy": 33.3}, "encoding": {"x": {"datum": "Total"}, "y": {"datum": "Precision"}}},
{"data": {"name": "panels"}, "transform": [{"filter": "datum.p === 'd'"}], "mark": {"type": "text", "text": "=", "font": "DejaVu Sans", "fontSize": 30, "fontWeight": "bold", "align": "left", "baseline": "alphabetic", "dx": 59.5, "dy": 27.3}, "encoding": {"x": {"datum": "Total"}, "y": {"datum": "Precision"}}},
{"data": {"name": "panels"}, "transform": [{"filter": "datum.p === 'd'"}], "mark": {"type": "text", "font": "DejaVu Sans", "fontSize": 30, "fontWeight": "bold", "align": "left", "baseline": "alphabetic", "dx": 85.5, "dy": 27.3}, "encoding": {"x": {"datum": "Total"}, "y": {"datum": "Precision"}, "text": {"field": "kw", "type": "quantitative", "format": ".2f"}}}
]
}
]
}
